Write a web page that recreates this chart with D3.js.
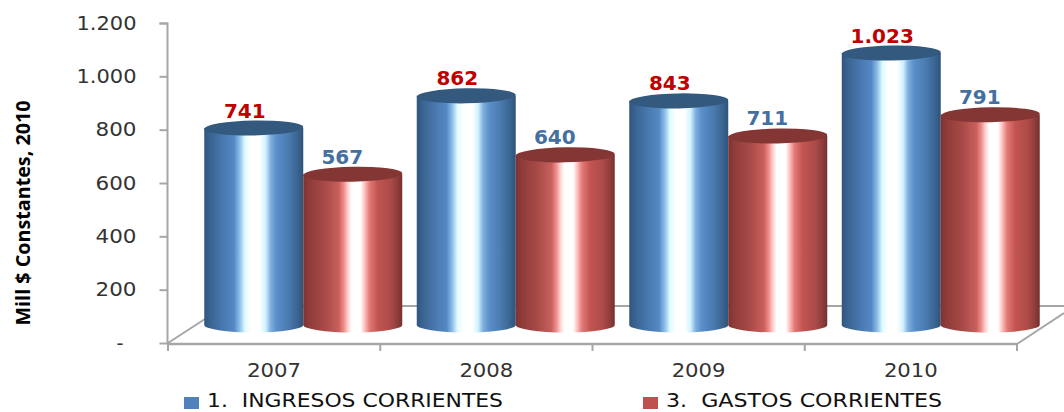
<!DOCTYPE html>
<html><head><meta charset="utf-8">
<script src="https://cdn.jsdelivr.net/npm/d3@7"></script>
<style>html,body{margin:0;padding:0;background:#fff;overflow:hidden}svg{display:block}</style>
</head><body><svg id="c" width="1064" height="412"></svg>
<script>
const years = ["2007","2008","2009","2010"];
const ingresos = [741,862,843,1023];
const gastos = [567,640,711,791];
const ingresosLabels = ["741","862","843","1.023"];
const gastosLabels = ["567","640","711","791"];
const tickValues = [0,200,400,600,800,1000,1200];
const tickLabels = ["-","200","400","600","800","1.000","1.200"];
const seriesNames = ["1.  INGRESOS CORRIENTES","3.  GASTOS CORRIENTES"];

const svg=d3.select("#c");
const defs=svg.append("defs");
function grad(id,stops){
  const g=defs.append("linearGradient").attr("id",id).attr("x1",0).attr("x2",1).attr("y1",0).attr("y2",0);
  stops.forEach(s=>g.append("stop").attr("offset",s[0]).attr("stop-color",s[1]));
}
grad("gb",[[0,"#2f5680"],[.06,"#3a6391"],[.2,"#4a7ab2"],[.3,"#5488c4"],[.36,"#8fc0e8"],[.41,"#dffaff"],[.47,"#ffffff"],[.56,"#ffffff"],[.62,"#d0f2ff"],[.67,"#80b0de"],[.73,"#5a8fca"],[.85,"#4a7ab0"],[.94,"#3b6591"],[1,"#2d5379"]]);
grad("gr",[[0,"#7f3331"],[.06,"#8f3c3a"],[.22,"#a84a47"],[.36,"#c9605d"],[.41,"#f08e8b"],[.45,"#ffd0d0"],[.49,"#ffffff"],[.58,"#ffffff"],[.62,"#ffc0be"],[.67,"#e27a77"],[.75,"#c25552"],[.88,"#ac4b48"],[.95,"#8f3d3b"],[1,"#753030"]]);

const yAxisScale=d3.scaleLinear().domain([0,1200]).range([343,23]);
const xAxisScale=d3.scaleBand().domain(years).range([168,1017]);
const yBar=d3.scaleLinear().domain([0,1200]).range([325,6]);
const xGroup=d3.scaleBand().domain(years).range([197,1047]);
const xSeries=d3.scaleBand().domain([0,1]).range([-99,99]);

const axisCol="#a6a6a6";
const g=svg.append("g");
const floor=g.append("g").attr("stroke",axisCol).attr("stroke-width",2).attr("fill","none");
floor.append("line").attr("x1",168).attr("y1",343).attr("x2",225).attr("y2",306);
floor.append("line").attr("x1",225).attr("y1",306).attr("x2",1064).attr("y2",306);
floor.append("line").attr("x1",1017).attr("y1",344).attr("x2",1064).attr("y2",313);

const yAx=d3.axisLeft(yAxisScale).tickValues(tickValues).tickFormat((d,i)=>tickLabels[i]).tickSize(8).tickPadding(23);
const yG=g.append("g").attr("transform","translate(167.5,0)").call(yAx);
yG.selectAll("line,path").attr("stroke",axisCol).attr("stroke-width",2);
yG.select("path").attr("d","M-8,23.5H0V344");
yG.selectAll("text").attr("font-family","DejaVu Sans").attr("font-size",20).attr("fill","#333")
  .attr("textLength",(d,i)=>tickLabels[i].length>3?60:(tickLabels[i].length==3?41:7)).attr("lengthAdjust","spacingAndGlyphs")
  .attr("dx",(d,i)=>tickLabels[i]=="-"?-13:0)
  .attr("dy","0.3em");
const xAx=d3.axisBottom(xAxisScale).tickSize(0).tickPadding(19);
const xG=g.append("g").attr("transform","translate(0,344)").call(xAx);
xG.select("path").attr("d","M168,0H1017").attr("stroke",axisCol).attr("stroke-width",2.5);
xG.selectAll("text").attr("font-family","DejaVu Sans").attr("font-size",20).attr("fill","#333").attr("textLength",54).attr("lengthAdjust","spacingAndGlyphs");
g.append("g").selectAll("line").data([...years.map(y=>xAxisScale(y)),xAxisScale.range()[1]]).join("line")
  .attr("x1",d=>d).attr("x2",d=>d).attr("y1",344).attr("y2",351).attr("stroke",axisCol).attr("stroke-width",2);

const cw=xSeries.bandwidth(), ry=7.5;
function drawCyl(val,year,si,fill,top){
  const x0=xGroup(year)+xGroup.bandwidth()/2+xSeries(si), x1=x0+cw;
  const yt=yBar(val), yb=yBar(0), rx=cw/2, cx=(x0+x1)/2;
  const cg=g.append("g");
  cg.append("path").attr("d",`M${x0},${yt}L${x0},${yb}A${rx},${ry} 0 0 0 ${x1},${yb}L${x1},${yt}Z`).attr("fill",`url(#${fill})`);
  cg.append("ellipse").attr("cx",cx).attr("cy",yt).attr("rx",rx).attr("ry",ry).attr("fill",top)
    .attr("transform",`rotate(-1 ${cx} ${yt})`);
}
years.forEach((y,i)=>{
  drawCyl(ingresos[i],y,0,"gb","#34597f");
  drawCyl(gastos[i],y,1,"gr","#843634");
});
const lab=g.append("g").attr("font-family","DejaVu Sans").attr("font-weight","bold").attr("font-size",20).attr("text-anchor","middle");
years.forEach((y,i)=>{
  const c=xGroup(y)+xGroup.bandwidth()/2;
  lab.append("text").attr("x",c+xSeries(0)+cw/2-9).attr("y",yBar(ingresos[i])-10.5).attr("fill","#c00000").text(ingresosLabels[i]);
  lab.append("text").attr("x",c+xSeries(1)+cw/2-10.5).attr("y",yBar(gastos[i])-10.5).attr("fill","#44709f").text(gastosLabels[i]);
});
g.append("text").attr("transform","translate(30,213) rotate(-90)").attr("text-anchor","middle")
 .attr("font-family","Open Sans").attr("font-weight","bold").attr("font-size",20).attr("fill","#000")
 .attr("textLength",225).attr("lengthAdjust","spacingAndGlyphs").text("Mill $ Constantes, 2010");
const leg=g.append("g");
[[184,207,296,"#4f81bd"],[643,666,276,"#c0504d"]].forEach((l,i)=>{
  leg.append("rect").attr("x",l[0]).attr("y",397).attr("width",15).attr("height",12).attr("fill",l[3]);
  leg.append("text").attr("x",l[1]).attr("y",407).attr("font-family","DejaVu Sans").attr("font-size",19).attr("fill","#111")
    .attr("textLength",l[2]).attr("lengthAdjust","spacingAndGlyphs").attr("xml:space","preserve").text(seriesNames[i]);
});
</script></body></html>
